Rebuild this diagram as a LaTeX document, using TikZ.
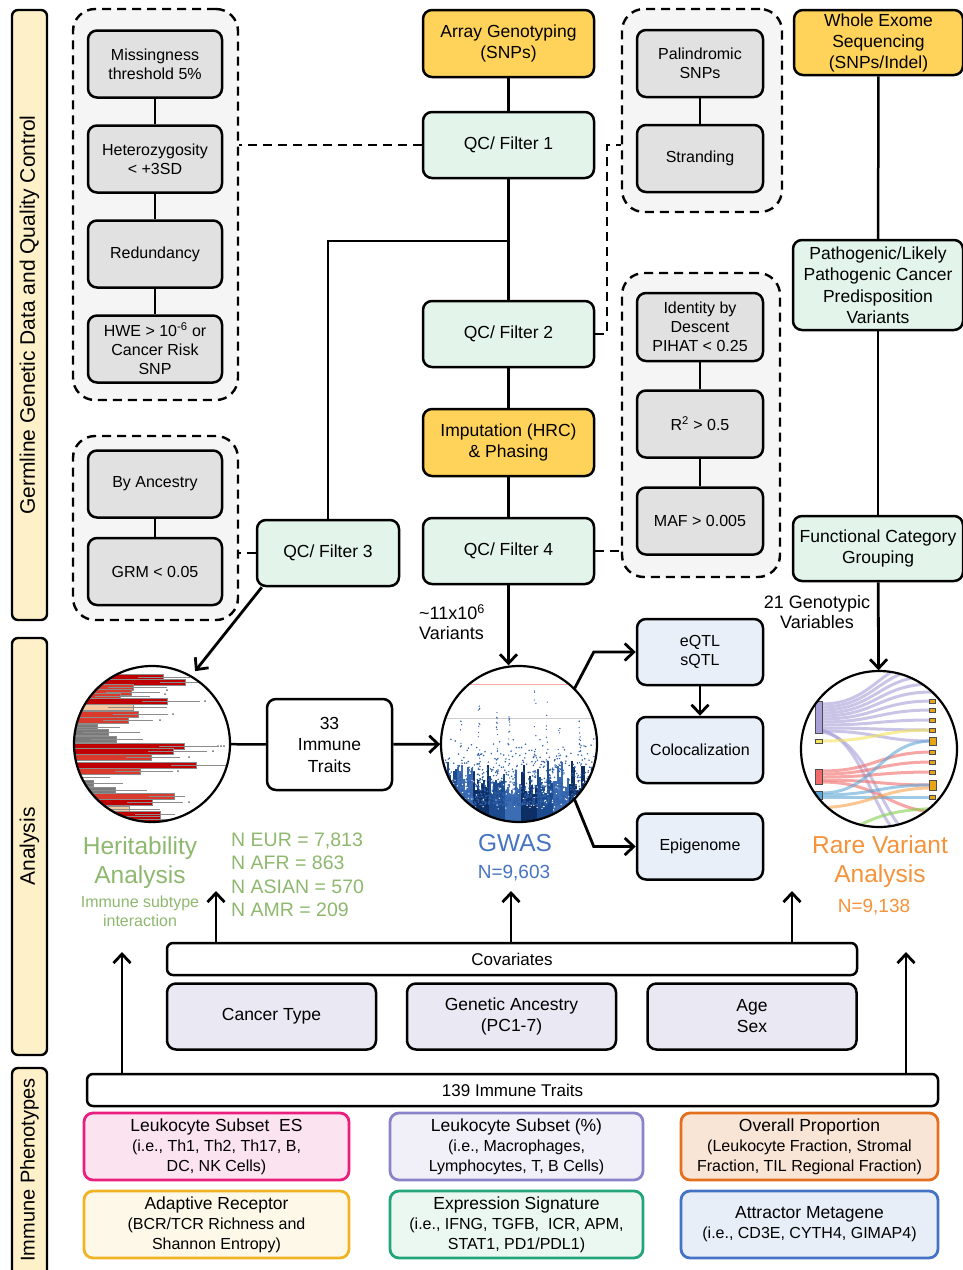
\documentclass[tikz,border=0pt]{standalone}
\usepackage{fontspec}
\setmainfont{Liberation Sans}
\usetikzlibrary{arrows.meta}

\definecolor{barYellow}{HTML}{FEF0C8}
\definecolor{srcOrange}{HTML}{FFD35A}
\definecolor{qcMint}{HTML}{E3F5EB}
\definecolor{critGray}{HTML}{E1E1E1}
\definecolor{groupGray}{HTML}{F5F5F5}
\definecolor{postBlue}{HTML}{E9EFF8}
\definecolor{covLav}{HTML}{E9E8F3}
\definecolor{heritGreen}{HTML}{8DB86E}
\definecolor{gwasBlue}{HTML}{4674C2}
\definecolor{rareOrange}{HTML}{F5923A}
\definecolor{pinkEdge}{HTML}{E91E7F}
\definecolor{pinkFill}{HTML}{FCE3F0}
\definecolor{lavEdge}{HTML}{8B83C9}
\definecolor{lavFill}{HTML}{F1F0F8}
\definecolor{oraEdge}{HTML}{E46F1C}
\definecolor{oraFill}{HTML}{F9E5D5}
\definecolor{goldEdge}{HTML}{F0B323}
\definecolor{goldFill}{HTML}{FEF8E8}
\definecolor{tealEdge}{HTML}{23A57B}
\definecolor{tealFill}{HTML}{EBF7F1}
\definecolor{blueEdge}{HTML}{4472C4}
\definecolor{blueFill}{HTML}{E8EEF8}
\definecolor{heritDark}{HTML}{C00000}
\definecolor{heritRed}{HTML}{D93A2B}
\definecolor{heritBeige}{HTML}{F6C8A0}
\definecolor{heritGrey}{HTML}{7A7A7A}
\definecolor{gwasDark}{HTML}{1B4A8E}
\definecolor{gwasMid}{HTML}{3C6CB4}
\definecolor{gwasDeep}{HTML}{0E2F66}
\definecolor{gwasDot}{HTML}{2F5FA8}
\definecolor{sankLav}{HTML}{A79FD6}
\definecolor{sankYel}{HTML}{F3E25C}
\definecolor{sankRed}{HTML}{F26B6B}
\definecolor{sankBlu}{HTML}{5EA6D4}
\definecolor{sankOra}{HTML}{F7A24B}
\definecolor{sankGrn}{HTML}{86D04F}
\definecolor{sankBox}{HTML}{E8A317}

\tikzstyle{block} = [rectangle, draw, line width=2.5pt, rounded corners=9pt, align=center, inner sep=1pt]
\tikzstyle{sourcebox} = [block, fill=srcOrange, minimum width=171pt, minimum height=67pt, font=\fontsize{17.5}{21}\selectfont]
\tikzstyle{qcbox} = [block, fill=qcMint, minimum width=171pt, minimum height=66pt, font=\fontsize{17.5}{21.5}\selectfont]
\tikzstyle{critbox} = [block, fill=critGray, minimum width=134pt, minimum height=67pt, font=\fontsize{16}{19}\selectfont]
\tikzstyle{filtergroup} = [rectangle, draw, line width=2.4pt, dash pattern=on 9pt off 6pt, rounded corners=22pt, fill=groupGray]
\tikzstyle{postbox} = [block, fill=postBlue, minimum width=126pt, minimum height=66pt, font=\fontsize{16}{19}\selectfont]
\tikzstyle{covbox} = [block, fill=covLav, minimum width=209pt, minimum height=66pt, font=\fontsize{17.5}{21}\selectfont]
\tikzstyle{banner} = [block, fill=white, rounded corners=6pt, minimum height=32pt, font=\fontsize{17}{20}\selectfont]
\tikzstyle{pheno} = [block, line width=2.8pt, minimum height=67pt, font=\fontsize{16}{20}\selectfont]
\tikzstyle{sidebar} = [rectangle, draw, line width=2.4pt, rounded corners=6pt, fill=barYellow, minimum height=35pt, inner sep=0pt, rotate=90, font=\fontsize{21}{24}\selectfont]
\tikzstyle{plotdisc} = [circle, minimum size=157pt, inner sep=0pt]
\tikzstyle{rim} = [line width=2.2pt]
\tikzstyle{txt} = [inner sep=0pt, align=center]
\tikzstyle{link} = [line width=2.5pt]
\tikzstyle{dashlink} = [line width=2.4pt, dash pattern=on 9pt off 6pt]
\tikzstyle{arrow} = [line width=2.8pt, -{Straight Barb[length=9pt, width=17pt]}]
\tikzstyle{flow} = [line width=3pt, opacity=0.6]

\newcommand{\phenohead}[1]{{\fontsize{17.5}{20}\selectfont #1}}

\begin{document}
\begin{tikzpicture}[x=1pt, y=-1pt, node distance=95pt]
\useasboundingbox (0,0) rectangle (963,1270);

% side bars
\node[sidebar, minimum width=610pt] (germBar) at (29.5,315) {Germline Genetic Data and Quality Control};
\node[sidebar, minimum width=417pt] (analysisBar) at (29.5,846.5) {Analysis};
\node[sidebar, minimum width=220pt] (phenoBar) at (29.5,1178) {};
\node[txt, rotate=90, font=\fontsize{20}{24}\selectfont] (phenoText) at (29.5,1170) {Immune Phenotypes};

% filter groups
\node[filtergroup, minimum width=165pt, minimum height=391pt] (filterOneGroup) at (155.5,204.5) {};
\node[filtergroup, minimum width=165pt, minimum height=184pt] (filterThreeGroup) at (155.5,528) {};
\node[filtergroup, minimum width=160pt, minimum height=203pt] (strandGroup) at (702,110.5) {};
\node[filtergroup, minimum width=158pt, minimum height=304pt] (imputeGroup) at (701,425) {};

% criteria
\node[critbox] (missing) at (155,64) {Missingness\\threshold 5\%};
\node[critbox, below of=missing] (hetero) {Heterozygosity\\< +3SD};
\node[critbox, below of=hetero] (redundancy) {Redundancy};
\node[critbox, below of=redundancy] (hwe) {HWE > 10\textsuperscript{-6} or\\Cancer Risk\\SNP};
\node[critbox] (byAncestry) at (155,484) {By Ancestry};
\node[critbox] (grm) at (155,571.5) {GRM < 0.05};
\node[critbox, minimum width=126pt] (palindromic) at (700,63.5) {Palindromic\\SNPs};
\node[critbox, minimum width=126pt, below of=palindromic] (stranding) {Stranding};
\node[critbox, minimum width=126pt, minimum height=68pt] (ibd) at (700,327) {Identity by\\Descent\\PIHAT < 0.25};
\node[critbox, minimum width=126pt, below of=ibd, node distance=97pt] (rsq) {R\textsuperscript{2} > 0.5};
\node[critbox, minimum width=126pt, below of=rsq, node distance=97pt] (maf) {MAF > 0.005};

% genotyping pipeline
\node[sourcebox] (arrayGeno) at (508.5,43.5) {Array Genotyping\\(SNPs)};
\node[qcbox] (qcOne) at (508.5,145) {QC/ Filter 1};
\node[qcbox] (qcTwo) at (508.5,334) {QC/ Filter 2};
\node[sourcebox] (imputation) at (508.5,442.5) {Imputation (HRC)\\\& Phasing};
\node[qcbox] (qcFour) at (508.5,551) {QC/ Filter 4};
\node[qcbox, minimum width=142pt] (qcThree) at (328,553) {QC/ Filter 3};
\coordinate (splitQC) at (508.5,241);
\coordinate (dashCorner) at (607,145);

% exome pipeline
\node[sourcebox, minimum width=169pt, minimum height=65pt] (wes) at (878.5,42.5) {Whole Exome\\Sequencing\\(SNPs/Indel)};
\node[qcbox, minimum width=170pt, minimum height=90pt] (pathogenic) at (878,285) {Pathogenic/Likely\\Pathogenic Cancer\\Predisposition\\Variants};
\node[qcbox, minimum width=170pt, minimum height=65pt] (funcGroup) at (878,548.5) {Functional Category\\Grouping};

\draw[link] (missing) -- (hetero);
\draw[link] (hetero) -- (redundancy);
\draw[link] (redundancy) -- (hwe);
\draw[link] (byAncestry) -- (grm);
\draw[link] (palindromic) -- (stranding);
\draw[link] (ibd) -- (rsq);
\draw[link] (rsq) -- (maf);
\draw[link] (arrayGeno) -- (qcOne);
\draw[link] (qcOne) -- (qcTwo);
\draw[link] (splitQC) -| (qcThree.north);
\draw[link] (qcTwo) -- (imputation);
\draw[link] (imputation) -- (qcFour);
\draw[link] (wes) -- (pathogenic);
\draw[link] (pathogenic) -- (funcGroup);
\draw[dashlink] (qcOne.west) -- (qcOne.west -| filterOneGroup.east);
\draw[dashlink] (qcThree.west) -- (qcThree.west -| filterThreeGroup.east);
\draw[dashlink] (qcTwo.east) -| (dashCorner) -- (dashCorner -| strandGroup.west);
\draw[dashlink] (qcFour.east) -- (qcFour.east -| imputeGroup.west);

% analysis plots
\node[plotdisc] (heritPlot) at (152,744) {};
\node[plotdisc] (gwasPlot) at (519,744) {};
\node[plotdisc] (rarePlot) at (879,749) {};

% heritability bars
\begin{scope}
\clip (heritPlot.center) circle (78pt);
\foreach \yy/\len/\col/\err in {677/163/heritDark/190, 682/185/heritDark/205, 687/133/heritRed/167,
    692/131/heritRed/160, 696/120/heritRed/150, 701/167/heritDark/200, 707/133/heritBeige/167,
    714/138/heritRed/168, 720/128/heritRed/153, 727/97/heritGrey/120, 732/108/heritGrey/140,
    739/116/heritGrey/143, 746/184/heritDark/217, 751/173/heritDark/207, 757/151/heritRed/180,
    765/196/heritDark/230, 771/140/heritRed/173, 783/93/heritGrey/123, 790/115/heritGrey/147,
    796/174/heritRed/185, 802/152/heritDark/183, 809/129/heritBeige/160, 814/160/heritDark/175,
    819/160/heritDark/175} {
  \filldraw[fill=\col, draw=black!45, line width=0.3pt] (74,\yy-2.8) rectangle (\len,\yy+2.8);
  \draw[black!45, line width=0.6pt] (\len-25,\yy) -- (\err,\yy);
}
\draw[black!45, line width=0.6pt] (74,777) -- (110,777);
\foreach \sx/\sy in {167/690, 165/694, 205/701, 173/714, 160/720, 189/757, 178/771, 189/802, 213/751, 218/746, 221/746, 224/746}
  \fill[black!60] (\sx,\sy) circle (1pt);
\end{scope}
\draw[rim] (heritPlot.center) circle (78pt);

% manhattan plot
\begin{scope}
\clip (gwasPlot.center) circle (78pt);
\draw[red!35, line width=0.6pt] (440,684) -- (600,684);
\draw[black!20, line width=0.6pt] (440,718) -- (600,718);
\pgfmathsetseed{42}
\foreach \k in {0,...,79} {
  \pgfmathsetmacro{\xx}{441+2*\k}
  \pgfmathsetmacro{\hh}{28+34*rnd}
  \pgfmathtruncatemacro{\band}{mod(floor(\k/8),3)}
  \edef\bandcol{\ifcase\band gwasDark\or gwasMid\else gwasDeep\fi}
  \fill[\bandcol] (\xx,823) rectangle (\xx+2.1,823-\hh);
}
\foreach \k in {1,...,1100} {
  \pgfmathsetmacro{\xx}{441+158*rnd}
  \pgfmathsetmacro{\yy}{805-68*rnd*rnd}
  \fill[gwasDot] (\xx,\yy) circle (0.85pt);
}
\foreach \k in {1,...,120} {
  \pgfmathsetmacro{\xx}{441+158*rnd}
  \pgfmathsetmacro{\yy}{810-30*rnd}
  \fill[white] (\xx,\yy) circle (0.7pt);
}
\foreach \sx/\top in {479/683, 497/708, 461/718, 547/700, 559/716, 535/690, 509/716, 580/720} {
  \foreach \j in {1,...,16} {
    \pgfmathsetmacro{\yy}{\top+(790-\top)*rnd}
    \fill[gwasDot] (\sx+2*rnd-1,\yy) circle (0.7pt);
  }
}
\end{scope}
\draw[rim] (gwasPlot.center) circle (78pt);

% sankey of rare variants
\begin{scope}
\clip (rarePlot.center) circle (78pt);
\foreach \ya/\yb in {704/660, 707/668, 710/676, 713/684, 716/692, 719/701, 722/710, 725/720, 728/730, 731/741}
  \draw[flow, sankLav] (822,\ya) .. controls (875,\ya) and (880,\yb) .. (932,\yb);
\draw[flow, sankLav] (822,732) .. controls (870,740) and (880,820) .. (915,840);
\draw[flow, sankLav] (822,730) .. controls (866,742) and (872,820) .. (905,840);
\draw[flow, sankYel] (822,741) .. controls (875,741) and (880,730) .. (932,730);
\foreach \ya/\yb in {771/752, 774/762, 777/772, 780/785}
  \draw[flow, sankRed] (822,\ya) .. controls (875,\ya) and (880,\yb) .. (932,\yb);
\draw[flow, sankRed] (822,782) .. controls (880,782) and (890,812) .. (940,812);
\draw[flow, sankBlu] (822,793) .. controls (875,793) and (880,741) .. (932,741);
\draw[flow, sankBlu] (822,795) .. controls (875,795) and (880,785) .. (932,785);
\draw[flow, sankBlu] (822,797) .. controls (875,797) and (880,797) .. (932,797);
\draw[flow, sankOra] (812,808) .. controls (870,808) and (880,788) .. (932,788);
\draw[flow, sankGrn] (860,825) .. controls (890,810) and (910,810) .. (940,808);
\filldraw[fill=sankLav, draw=black!70, line width=0.6pt] (815,701) rectangle (822,733);
\filldraw[fill=sankYel, draw=black!70, line width=0.6pt] (815,739) rectangle (822,743);
\filldraw[fill=sankRed, draw=black!70, line width=0.6pt] (815,769) rectangle (822,784);
\filldraw[fill=sankBlu, draw=black!70, line width=0.6pt] (815,791) rectangle (822,799);
\foreach \ry in {701,710,720,730,752,762,772,797}
  \filldraw[fill=sankBox, draw=black!70, line width=0.5pt] (929,\ry-2) rectangle (935,\ry+2);
\filldraw[fill=sankBox, draw=black!70, line width=0.5pt] (929,737) rectangle (936,745);
\filldraw[fill=sankBox, draw=black!70, line width=0.5pt] (929,780) rectangle (936,790);
\end{scope}
\draw[rim] (rarePlot.center) circle (78pt);

% analysis boxes
\node[block, fill=white, minimum width=125pt, minimum height=91pt, font=\fontsize{17.5}{21.5}\selectfont] (immuneTraits) at (329.5,744.5) {33\\Immune\\Traits};
\node[postbox] (eqtl) at (700,652) {eQTL\\sQTL};
\node[postbox] (coloc) at (700,750) {Colocalization};
\node[postbox] (epigenome) at (700,846.5) {Epigenome};

\node[txt, font=\fontsize{18}{20}\selectfont, align=left] (variantCount) at (452,622) {\textasciitilde11x10\textsuperscript{6}\\Variants};
\node[txt, font=\fontsize{18}{20}\selectfont] (genoVars) at (817,612) {21 Genotypic\\Variables};

\draw[arrow, shorten >=6pt] ([xshift=6pt]qcThree.south west) -- (heritPlot.60);
\draw[arrow] (qcFour.south) -- (qcFour.south |- gwasPlot.north);
\draw[arrow] (funcGroup) -- (rarePlot);
\draw[link] (heritPlot) -- (immuneTraits);
\draw[arrow] (immuneTraits) -- (gwasPlot);
\draw[arrow] (gwasPlot.north east) -- ([xshift=-42pt]eqtl.west) -- (eqtl.west);
\draw[arrow] (gwasPlot.south east) -- ([xshift=-42pt]epigenome.west) -- (epigenome.west);
\draw[arrow] (eqtl) -- (coloc);

% analysis captions
\node[txt, text=heritGreen, font=\fontsize{24.5}{29}\selectfont] (heritTitle) at (140,862.5) {Heritability\\Analysis};
\node[txt, text=heritGreen, font=\fontsize{16}{19}\selectfont] (heritNote) at (140,911) {Immune subtype\\interaction};
\node[txt, text=heritGreen, font=\fontsize{19.5}{23.5}\selectfont, align=left, anchor=west] (ancestryCounts) at (231,875) {N EUR = 7,813\\N AFR = 863\\N ASIAN = 570\\N AMR = 209};
\node[txt, text=gwasBlue, font=\fontsize{24.5}{29}\selectfont] (gwasTitle) at (515,843) {GWAS};
\node[txt, text=gwasBlue, font=\fontsize{19}{23}\selectfont] (gwasN) at (514,873) {N=9,603};
\node[txt, text=rareOrange, font=\fontsize{24.5}{29}\selectfont] (rareTitle) at (880,862) {Rare Variant\\Analysis};
\node[txt, text=rareOrange, font=\fontsize{19}{23}\selectfont] (rareN) at (874,907) {N=9,138};

% covariates and phenotypes
\node[banner, minimum width=690pt] (covariates) at (512,959) {Covariates};
\node[covbox] (cancerType) at (271.5,1016.5) {Cancer Type};
\node[covbox] (ancestry) at (511.5,1016.5) {Genetic Ancestry\\(PC1-7)};
\node[covbox] (ageSex) at (752,1016.5) {Age\\Sex};
\node[banner, minimum width=851pt] (immune139) at (512.5,1090) {139 Immune Traits};

\node[pheno, draw=pinkEdge, fill=pinkFill, minimum width=265pt] (leukoES) at (216.5,1146.5) {\phenohead{Leukocyte Subset~ ES}\\(i.e., Th1, Th2, Th17, B,\\DC, NK Cells)};
\node[pheno, draw=lavEdge, fill=lavFill, minimum width=253pt] (leukoPct) at (516.5,1146.5) {\phenohead{Leukocyte Subset (\%)}\\(i.e., Macrophages,\\Lymphocytes, T, B Cells)};
\node[pheno, draw=oraEdge, fill=oraFill, minimum width=257pt] (overallProp) at (809.5,1146.5) {\phenohead{Overall Proportion}\\(Leukocyte Fraction, Stromal\\Fraction, TIL Regional Fraction)};
\node[pheno, draw=goldEdge, fill=goldFill, minimum width=265pt] (adaptiveRec) at (216.5,1224.5) {\phenohead{Adaptive Receptor}\\(BCR/TCR Richness and\\Shannon Entropy)};
\node[pheno, draw=tealEdge, fill=tealFill, minimum width=253pt] (exprSig) at (516.5,1224.5) {\phenohead{Expression Signature}\\(i.e., IFNG, TGFB,~ ICR, APM,\\STAT1, PD1/PDL1)};
\node[pheno, draw=blueEdge, fill=blueFill, minimum width=257pt] (attractor) at (809.5,1224.5) {\phenohead{Attractor Metagene}\\(i.e., CD3E, CYTH4, GIMAP4)};

\coordinate (heritIn) at (216,891);
\coordinate (gwasIn) at (511,891);
\coordinate (rareIn) at (792,891);
\coordinate (heritUp) at (122,952);
\coordinate (rareUp) at (906,952);
\draw[arrow] (heritIn |- covariates.north) -- (heritIn);
\draw[arrow] (gwasIn |- covariates.north) -- (gwasIn);
\draw[arrow] (rareIn |- covariates.north) -- (rareIn);
\draw[arrow] (heritUp |- immune139.north) -- (heritUp);
\draw[arrow] (rareUp |- immune139.north) -- (rareUp);
\end{tikzpicture}
\end{document}
